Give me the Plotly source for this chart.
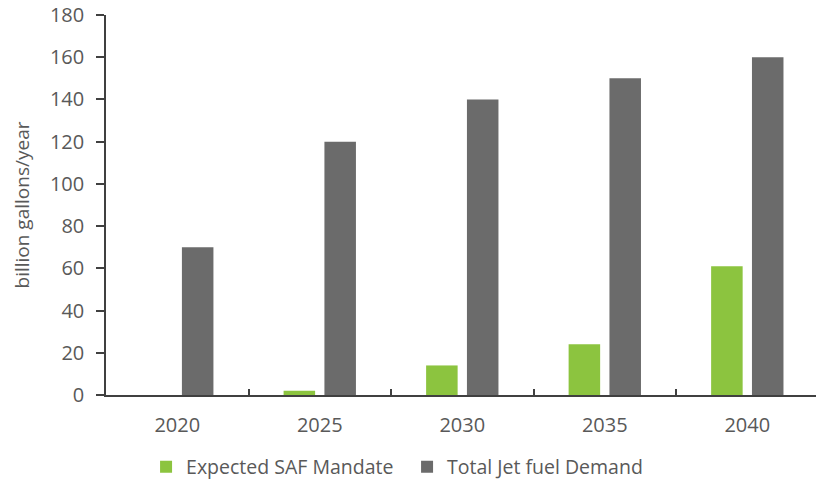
import plotly.graph_objects as go

years = ["2020", "2025", "2030", "2035", "2040"]
saf_mandate = [0, 2, 14, 24, 61]
jet_demand = [70, 120, 140, 150, 160]
y_ticks = [0, 20, 40, 60, 80, 100, 120, 140, 160, 180]

GREEN = "#8cc43f"
GRAY = "#6b6b6b"
TEXT = "#595959"
AXIS = "#404040"
FONT = "Open Sans"
FS = 20

fig = go.Figure()
fig.add_trace(go.Bar(name="Expected SAF Mandate", x=years, y=saf_mandate,
                     marker=dict(color=GREEN, line=dict(width=0))))
fig.add_trace(go.Bar(name="Total Jet fuel Demand", x=years, y=jet_demand,
                     marker=dict(color=GRAY, line=dict(width=0))))

fig.update_layout(
    width=816, height=485,
    margin=dict(l=106, r=0, t=15, b=90),
    paper_bgcolor="white", plot_bgcolor="white",
    barmode="group", bargap=0.427, bargroupgap=0.228,
    font=dict(family=FONT, size=FS, color=TEXT),
    showlegend=True,
    legend=dict(orientation="h", xref="container", yref="container",
                x=0.179, xanchor="left", y=0.037, yanchor="middle",
                font=dict(family=FONT, size=19.5, color=TEXT),
                entrywidth=216, entrywidthmode="pixels",
                itemwidth=30),
)
fig.update_xaxes(
    type="category", range=[-0.5, 4.482],
    showline=True, linecolor=AXIS, linewidth=1.5,
    ticks="inside", tickson="boundaries", ticklen=6, tickcolor=AXIS, tickwidth=1.5,
    showgrid=False, ticklabelstandoff=11,
    tickfont=dict(family=FONT, size=FS, color=TEXT),
)
fig.update_yaxes(
    range=[0, 180], tickvals=y_ticks,
    showline=True, linecolor=AXIS, linewidth=1.5,
    ticks="outside", ticklen=8, tickcolor=AXIS, tickwidth=1.5,
    showgrid=False, zeroline=False, ticklabelstandoff=8,
    tickfont=dict(family=FONT, size=FS, color=TEXT),
    title=dict(text="billion gallons/year", font=dict(family=FONT, size=19, color=TEXT), standoff=15),
)

fig.write_html("out.html")
